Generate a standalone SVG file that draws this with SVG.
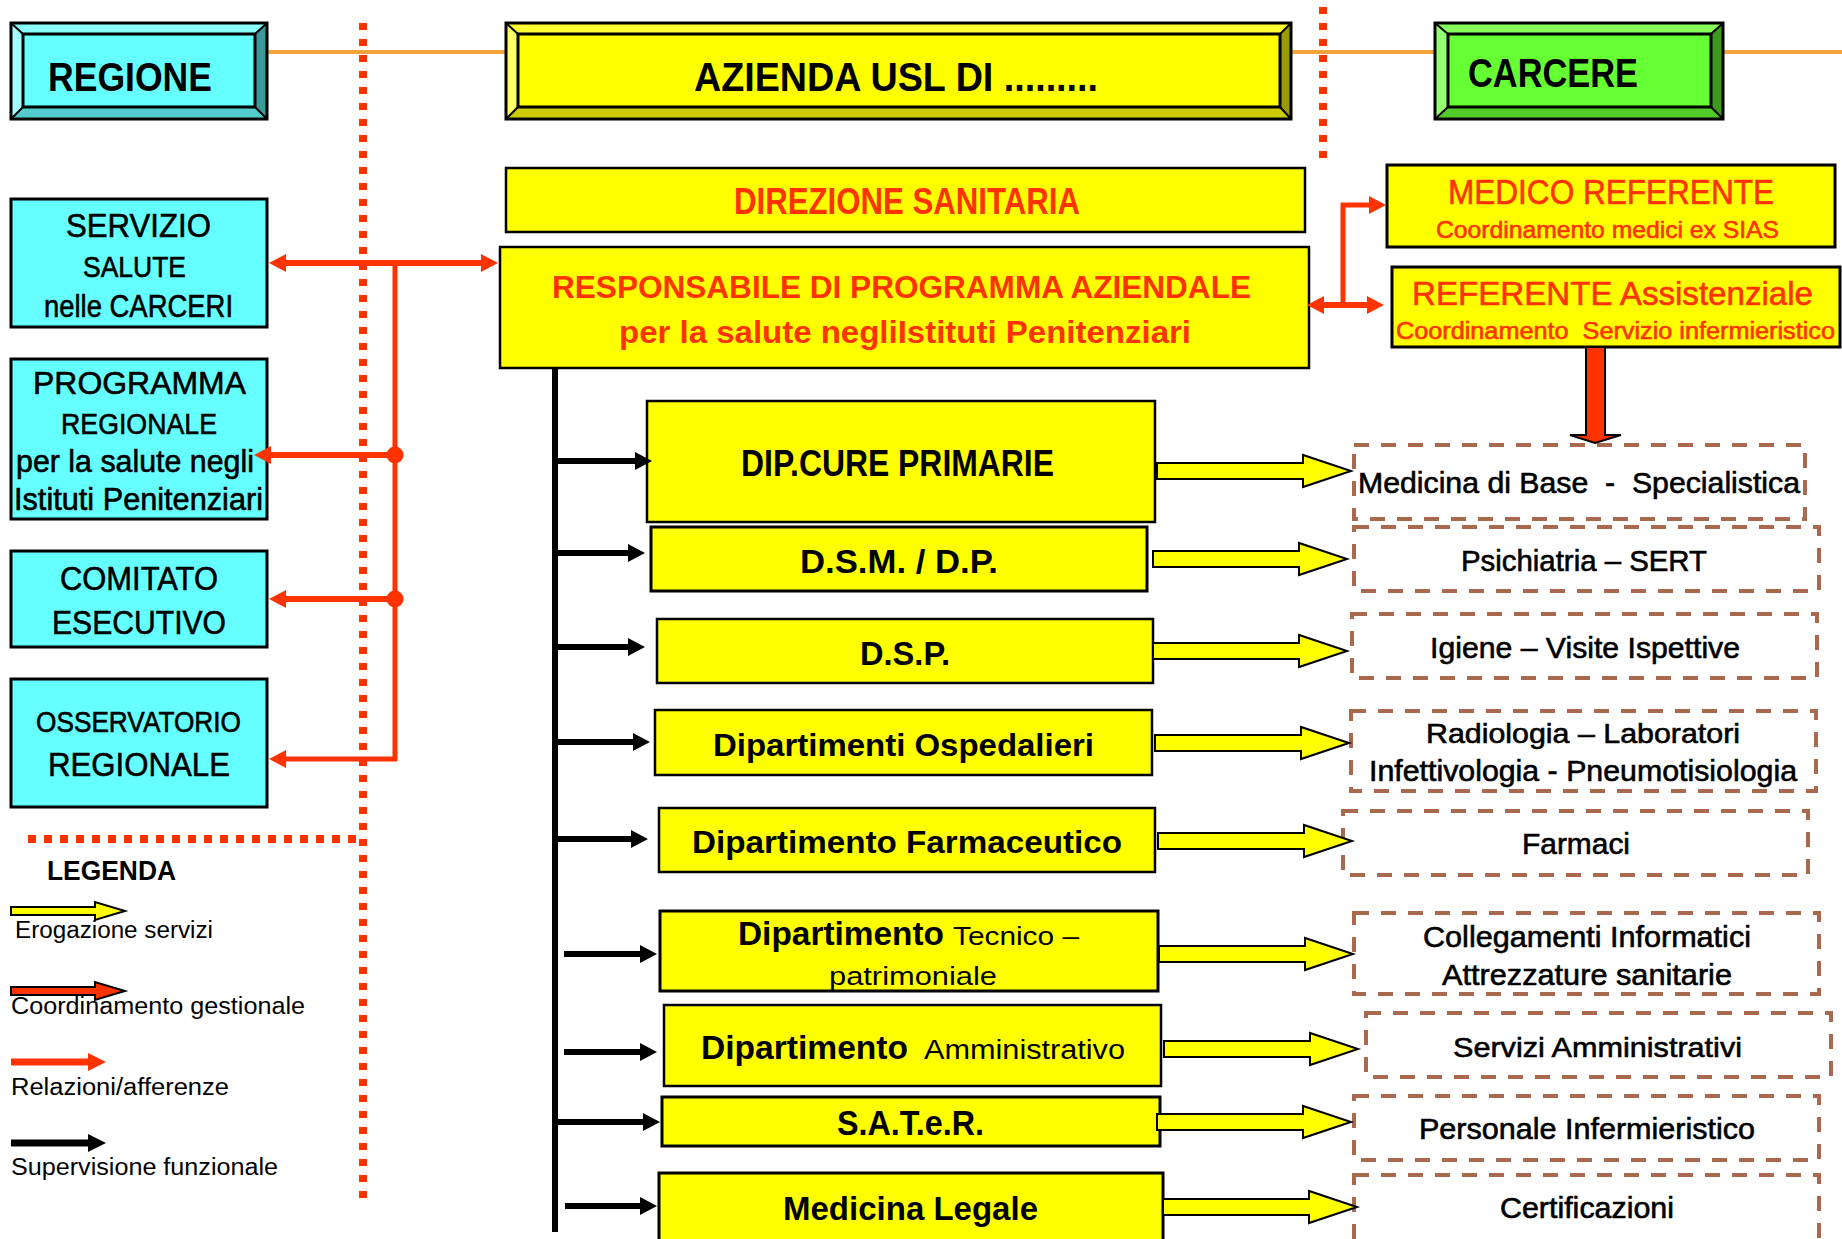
<svg xmlns="http://www.w3.org/2000/svg" xmlns:xlink="http://www.w3.org/1999/xlink" width="1842" height="1239" viewBox="0 0 1842 1239">
<style>
text{font-family:"Liberation Sans",Arial,sans-serif;fill:#000}
.b{font-weight:bold}
.red{fill:#FF3300}
.m{stroke:#000;stroke-width:0.6}
.m.red{stroke:#FF3300}
.box{stroke:#000;stroke-width:3}
.cy{fill:#66FFFF}
.ye{fill:#FFFF00}
.dash{fill:none;stroke:#A9694F;stroke-width:4;stroke-dasharray:15 12}
.ed{stroke:#000;stroke-width:3;stroke-linejoin:miter}
.dg{stroke:#000;stroke-width:2}
.rl{stroke:#FF3300;stroke-width:6;fill:none}
.bl{stroke:#000;stroke-width:6;fill:none}
.or{stroke:#F2A33A;stroke-width:4}
.dotv{stroke:#FF3300;stroke-width:8;stroke-dasharray:7 9;fill:none}
.ya{fill:#FFFF00;stroke:#000;stroke-width:2}
</style>
<defs>
<marker id="ra" markerUnits="userSpaceOnUse" markerWidth="20" markerHeight="20" refX="2" refY="9" orient="auto-start-reverse"><path d="M0,0 L17,9 L0,18 z" fill="#FF3300"/></marker>
<marker id="ba" markerUnits="userSpaceOnUse" markerWidth="20" markerHeight="20" refX="2" refY="9" orient="auto"><path d="M0,0 L17,9 L0,18 z" fill="#000"/></marker>
<path id="yarrow" d="M0,-8 L146,-8 L146,-16 L194,0 L146,16 L146,8 L0,8 z"/>
</defs>

<!-- separators -->
<g id="separators">
<line class="or" x1="267" y1="52" x2="506" y2="52"/>
<line class="or" x1="1291" y1="52" x2="1435" y2="52"/>
<line class="or" x1="1723" y1="52" x2="1842" y2="52"/>
<line class="dotv" x1="363" y1="23" x2="363" y2="1199"/>
<line class="dotv" x1="1323" y1="7" x2="1323" y2="159"/>
<line class="dotv" x1="28" y1="839" x2="360" y2="839" style="stroke-dasharray:8 8"/>
</g>

<!-- top bevel boxes -->
<g id="regione">
<polygon points="11,23 267,23 255,34 23,34" fill="#8CFFFF"/>
<polygon points="11,23 23,34 23,107 11,119" fill="#A3FFFF"/>
<polygon points="267,23 267,119 255,107 255,34" fill="#3D9999"/>
<polygon points="11,119 23,107 255,107 267,119" fill="#52CCCC"/>
<rect x="23" y="34" width="232" height="73" fill="#66FFFF" class="ed"/>
<path class="dg" d="M11,23 L23,34 M267,23 L255,34 M11,119 L23,107 M267,119 L255,107"/>
<rect x="11" y="23" width="256" height="96" fill="none" class="ed"/>
<text class="b" x="48" y="91" font-size="41" textLength="164" lengthAdjust="spacingAndGlyphs">REGIONE</text>
</g>
<g id="azienda">
<polygon points="506,23 1291,23 1280,34 518,34" fill="#FFFF33"/>
<polygon points="506,23 518,34 518,107 506,119" fill="#FFFF66"/>
<polygon points="1291,23 1291,119 1280,107 1280,34" fill="#999900"/>
<polygon points="506,119 518,107 1280,107 1291,119" fill="#CCCC00"/>
<rect x="518" y="34" width="762" height="73" fill="#FFFF00" class="ed"/>
<path class="dg" d="M506,23 L518,34 M1291,23 L1280,34 M506,119 L518,107 M1291,119 L1280,107"/>
<rect x="506" y="23" width="785" height="96" fill="none" class="ed"/>
<text class="b" x="694" y="91" font-size="41" textLength="404" lengthAdjust="spacingAndGlyphs">AZIENDA USL DI .........</text>
</g>
<g id="carcere">
<polygon points="1435,23 1723,23 1711,34 1448,34" fill="#85FF5C"/>
<polygon points="1435,23 1448,34 1448,107 1435,119" fill="#94FF70"/>
<polygon points="1723,23 1723,119 1711,107 1711,34" fill="#3D991F"/>
<polygon points="1435,119 1448,107 1711,107 1723,119" fill="#52CC29"/>
<rect x="1448" y="34" width="263" height="73" fill="#66FF33" class="ed"/>
<path class="dg" d="M1435,23 L1448,34 M1723,23 L1711,34 M1435,119 L1448,107 M1723,119 L1711,107"/>
<rect x="1435" y="23" width="288" height="96" fill="none" class="ed"/>
<text class="b" x="1468" y="87" font-size="41" textLength="170" lengthAdjust="spacingAndGlyphs">CARCERE</text>
</g>

<!-- left cyan boxes -->
<g id="servizio">
<rect class="box cy" x="11" y="199" width="256" height="128"/>
<text class="m" x="66" y="237" font-size="34" textLength="145" lengthAdjust="spacingAndGlyphs">SERVIZIO</text>
<text class="m" x="83" y="277" font-size="29" textLength="103" lengthAdjust="spacingAndGlyphs">SALUTE</text>
<text class="m" x="44" y="317" font-size="31" textLength="189" lengthAdjust="spacingAndGlyphs">nelle CARCERI</text>
</g>
<g id="programma">
<rect class="box cy" x="11" y="359" width="256" height="160"/>
<text class="m" x="33" y="394" font-size="32" textLength="213" lengthAdjust="spacingAndGlyphs">PROGRAMMA</text>
<text class="m" x="61" y="434" font-size="30" textLength="156" lengthAdjust="spacingAndGlyphs">REGIONALE</text>
<text class="m" x="16" y="472" font-size="31" textLength="238" lengthAdjust="spacingAndGlyphs">per la salute negli</text>
<text class="m" x="14" y="510" font-size="31" textLength="249" lengthAdjust="spacingAndGlyphs">Istituti Penitenziari</text>
</g>
<g id="comitato">
<rect class="box cy" x="11" y="551" width="256" height="96"/>
<text class="m" x="60" y="590" font-size="34" textLength="158" lengthAdjust="spacingAndGlyphs">COMITATO</text>
<text class="m" x="52" y="634" font-size="34" textLength="174" lengthAdjust="spacingAndGlyphs">ESECUTIVO</text>
</g>
<g id="osservatorio">
<rect class="box cy" x="11" y="679" width="256" height="128"/>
<text class="m" x="36" y="732" font-size="29" textLength="205" lengthAdjust="spacingAndGlyphs">OSSERVATORIO</text>
<text class="m" x="48" y="776" font-size="34" textLength="182" lengthAdjust="spacingAndGlyphs">REGIONALE</text>
</g>

<!-- central boxes -->
<g id="direzione">
<rect class="box ye" x="506" y="168" width="799" height="64" style="stroke-width:2.5"/>
<text class="b red" x="734" y="214" font-size="36" textLength="346" lengthAdjust="spacingAndGlyphs">DIREZIONE SANITARIA</text>
</g>
<g id="responsabile">
<rect class="box ye" x="500" y="247" width="809" height="121" style="stroke-width:2.5"/>
<text class="b red" x="552" y="298" font-size="31" textLength="699" lengthAdjust="spacingAndGlyphs">RESPONSABILE DI PROGRAMMA AZIENDALE</text>
<text class="b red" x="619" y="343" font-size="32" textLength="572" lengthAdjust="spacingAndGlyphs">per la salute negliIstituti Penitenziari</text>
</g>
<g id="medico">
<rect class="box ye" x="1387" y="165" width="448" height="82"/>
<text class="m red" x="1448" y="204" font-size="35" textLength="326" lengthAdjust="spacingAndGlyphs">MEDICO REFERENTE</text>
<text class="m red" x="1436" y="238" font-size="24" textLength="343" lengthAdjust="spacingAndGlyphs">Coordinamento medici ex SIAS</text>
</g>
<g id="referente">
<rect class="box ye" x="1392" y="267" width="448" height="80"/>
<text class="m red" x="1412" y="305" font-size="33" textLength="401" lengthAdjust="spacingAndGlyphs">REFERENTE Assistenziale</text>
<text class="m red" x="1396" y="339" font-size="23" textLength="439" lengthAdjust="spacingAndGlyphs" xml:space="preserve">Coordinamento  Servizio infermieristico</text>
</g>

<!-- departments -->
<g id="dip-cure">
<rect class="box ye" x="647" y="401" width="508" height="121" style="stroke-width:2.5"/>
<text class="b" x="741" y="476" font-size="36" textLength="313" lengthAdjust="spacingAndGlyphs">DIP.CURE PRIMARIE</text>
</g>
<g id="dsm">
<rect class="box ye" x="651" y="527" width="496" height="64"/>
<text class="b" x="800" y="573" font-size="34" textLength="198" lengthAdjust="spacingAndGlyphs">D.S.M. / D.P.</text>
</g>
<g id="dsp">
<rect class="box ye" x="657" y="619" width="496" height="64" style="stroke-width:2.5"/>
<text class="b" x="860" y="665" font-size="33" textLength="90" lengthAdjust="spacingAndGlyphs">D.S.P.</text>
</g>
<g id="ospedalieri">
<rect class="box ye" x="655" y="710" width="497" height="65" style="stroke-width:2.5"/>
<text class="b" x="713" y="756" font-size="32" textLength="381" lengthAdjust="spacingAndGlyphs">Dipartimenti Ospedalieri</text>
</g>
<g id="farmaceutico">
<rect class="box ye" x="659" y="808" width="496" height="64" style="stroke-width:2.5"/>
<text class="b" x="692" y="853" font-size="31" textLength="430" lengthAdjust="spacingAndGlyphs">Dipartimento Farmaceutico</text>
</g>
<g id="tecnico">
<rect class="box ye" x="660" y="911" width="498" height="80"/>
<text class="b" x="738" y="945" font-size="33" textLength="206" lengthAdjust="spacingAndGlyphs">Dipartimento</text>
<text x="953" y="945" font-size="26" textLength="126" lengthAdjust="spacingAndGlyphs">Tecnico –</text>
<text x="829" y="985" font-size="26" textLength="168" lengthAdjust="spacingAndGlyphs">patrimoniale</text>
</g>
<g id="amministrativo">
<rect class="box ye" x="664" y="1005" width="497" height="81" style="stroke-width:2.5"/>
<text class="b" x="701" y="1059" font-size="34" textLength="207" lengthAdjust="spacingAndGlyphs">Dipartimento</text>
<text x="924" y="1059" font-size="27" textLength="201" lengthAdjust="spacingAndGlyphs">Amministrativo</text>
</g>
<g id="sater">
<rect class="box ye" x="662" y="1097" width="498" height="49"/>
<text class="b" x="837" y="1135" font-size="35" textLength="147" lengthAdjust="spacingAndGlyphs">S.A.T.e.R.</text>
</g>
<g id="medicina-legale">
<rect class="box ye" x="659" y="1173" width="504" height="80"/>
<text class="b" x="783" y="1220" font-size="33" textLength="255" lengthAdjust="spacingAndGlyphs">Medicina Legale</text>
</g>

<!-- service boxes -->
<g id="s-medicina">
<rect class="dash" x="1354" y="445" width="451" height="74"/>
<text class="m" x="1358" y="493" font-size="29" textLength="442" lengthAdjust="spacingAndGlyphs" xml:space="preserve">Medicina di Base  -  Specialistica</text>
</g>
<g id="s-psichiatria">
<rect class="dash" x="1354" y="527" width="465" height="64"/>
<text class="m" x="1461" y="571" font-size="30" textLength="246" lengthAdjust="spacingAndGlyphs">Psichiatria – SERT</text>
</g>
<g id="s-igiene">
<rect class="dash" x="1352" y="614" width="465" height="64"/>
<text class="m" x="1430" y="658" font-size="29" textLength="310" lengthAdjust="spacingAndGlyphs">Igiene – Visite Ispettive</text>
</g>
<g id="s-radiologia">
<rect class="dash" x="1351" y="711" width="465" height="80"/>
<text class="m" x="1426" y="743" font-size="28" textLength="314" lengthAdjust="spacingAndGlyphs">Radiologia – Laboratori</text>
<text class="m" x="1369" y="781" font-size="29" textLength="428" lengthAdjust="spacingAndGlyphs">Infettivologia - Pneumotisiologia</text>
</g>
<g id="s-farmaci">
<rect class="dash" x="1343" y="811" width="465" height="64"/>
<text class="m" x="1522" y="854" font-size="29" textLength="108" lengthAdjust="spacingAndGlyphs">Farmaci</text>
</g>
<g id="s-collegamenti">
<rect class="dash" x="1354" y="913" width="465" height="81"/>
<text class="m" x="1423" y="947" font-size="29" textLength="328" lengthAdjust="spacingAndGlyphs">Collegamenti Informatici</text>
<text class="m" x="1442" y="985" font-size="30" textLength="290" lengthAdjust="spacingAndGlyphs">Attrezzature sanitarie</text>
</g>
<g id="s-servizi">
<rect class="dash" x="1366" y="1013" width="465" height="64"/>
<text class="m" x="1453" y="1057" font-size="28" textLength="289" lengthAdjust="spacingAndGlyphs">Servizi Amministrativi</text>
</g>
<g id="s-personale">
<rect class="dash" x="1354" y="1096" width="465" height="64"/>
<text class="m" x="1419" y="1139" font-size="29" textLength="336" lengthAdjust="spacingAndGlyphs">Personale Infermieristico</text>
</g>
<g id="s-certificazioni">
<rect class="dash" x="1354" y="1175" width="465" height="80"/>
<text class="m" x="1500" y="1218" font-size="29" textLength="174" lengthAdjust="spacingAndGlyphs">Certificazioni</text>
</g>

<!-- connectors -->
<g id="connectors">
<line class="rl" x1="284" y1="263" x2="483" y2="263" marker-start="url(#ra)" marker-end="url(#ra)"/>
<polyline class="rl" points="395,263 395,759 284,759" marker-end="url(#ra)" style="stroke-width:5"/>
<line class="rl" x1="395" y1="455" x2="269" y2="455" marker-end="url(#ra)"/>
<line class="rl" x1="395" y1="599" x2="284" y2="599" marker-end="url(#ra)"/>
<circle cx="395" cy="455" r="8.5" fill="#FF3300"/>
<circle cx="395" cy="599" r="8.5" fill="#FF3300"/>
<polyline class="rl" points="1343,308 1343,205 1371,205" marker-end="url(#ra)" style="stroke-width:5"/>
<line class="rl" x1="1322" y1="305" x2="1369" y2="305" marker-start="url(#ra)" marker-end="url(#ra)"/>
<polygon points="1586,347 1605,347 1605,435 1621,435 1595,443 1570,435 1586,435" fill="#FF3300" stroke="#000" stroke-width="2"/>
<line class="bl" x1="555" y1="368" x2="555" y2="1232"/>
<line class="bl" x1="555" y1="461" x2="637" y2="461" marker-end="url(#ba)"/>
<line class="bl" x1="555" y1="553" x2="630" y2="553" marker-end="url(#ba)"/>
<line class="bl" x1="555" y1="647" x2="630" y2="647" marker-end="url(#ba)"/>
<line class="bl" x1="555" y1="742" x2="635" y2="742" marker-end="url(#ba)"/>
<line class="bl" x1="555" y1="839" x2="633" y2="839" marker-end="url(#ba)"/>
<line class="bl" x1="564" y1="954" x2="642" y2="954" marker-end="url(#ba)"/>
<line class="bl" x1="564" y1="1052" x2="642" y2="1052" marker-end="url(#ba)"/>
<line class="bl" x1="555" y1="1122" x2="645" y2="1122" marker-end="url(#ba)"/>
<line class="bl" x1="565" y1="1206" x2="642" y2="1206" marker-end="url(#ba)"/>
<use xlink:href="#yarrow" href="#yarrow" class="ya" x="1157" y="471"/>
<use xlink:href="#yarrow" href="#yarrow" class="ya" x="1153" y="559"/>
<use xlink:href="#yarrow" href="#yarrow" class="ya" x="1153" y="651"/>
<use xlink:href="#yarrow" href="#yarrow" class="ya" x="1155" y="743"/>
<use xlink:href="#yarrow" href="#yarrow" class="ya" x="1158" y="841"/>
<use xlink:href="#yarrow" href="#yarrow" class="ya" x="1159" y="954"/>
<use xlink:href="#yarrow" href="#yarrow" class="ya" x="1164" y="1049"/>
<use xlink:href="#yarrow" href="#yarrow" class="ya" x="1157" y="1122"/>
<use xlink:href="#yarrow" href="#yarrow" class="ya" x="1163" y="1207"/>
</g>

<!-- legend -->
<g id="legenda">
<text class="b" x="47" y="880" font-size="28" textLength="129" lengthAdjust="spacingAndGlyphs">LEGENDA</text>
<polygon points="11,907 95,907 95,902 125,911 95,920 95,915 11,915" fill="#FFFF00" stroke="#000" stroke-width="2"/>
<text x="15" y="938" font-size="23" textLength="198" lengthAdjust="spacingAndGlyphs">Erogazione servizi</text>
<polygon points="11,987 95,987 95,982 125,991 95,1000 95,995 11,995" fill="#FF3300" stroke="#000" stroke-width="2"/>
<text x="11" y="1014" font-size="23" textLength="294" lengthAdjust="spacingAndGlyphs">Coordinamento gestionale</text>
<line class="rl" x1="11" y1="1062" x2="89" y2="1062" style="stroke-width:7"/>
<polygon points="88,1053 106,1062 88,1071" fill="#FF3300"/>
<text x="11" y="1095" font-size="23" textLength="218" lengthAdjust="spacingAndGlyphs">Relazioni/afferenze</text>
<line class="bl" x1="11" y1="1143" x2="89" y2="1143" style="stroke-width:7"/>
<polygon points="88,1134 106,1143 88,1152" fill="#000"/>
<text x="11" y="1175" font-size="23" textLength="267" lengthAdjust="spacingAndGlyphs">Supervisione funzionale</text>
</g>
</svg>
